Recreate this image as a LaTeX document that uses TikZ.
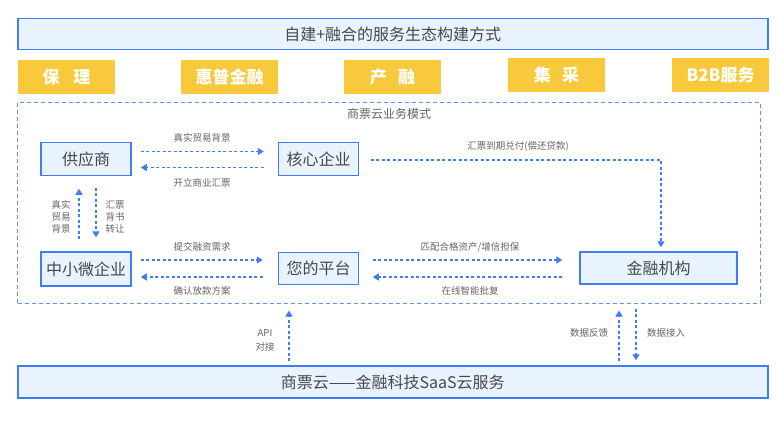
\documentclass[tikz,border=0pt]{standalone}
\usepackage{fontspec}
\setmainfont{Noto Sans CJK SC}
\usetikzlibrary{arrows.meta}
\definecolor{bl}{RGB}{64,124,245}
\definecolor{blc}{RGB}{96,146,245}
\definecolor{bfill}{RGB}{233,243,255}
\definecolor{yel}{RGB}{248,201,58}
\definecolor{tx}{RGB}{72,72,72}
\definecolor{lab}{RGB}{100,100,100}
\begin{document}
\begin{tikzpicture}[x=1pt,y=-1pt,
  entbox/.style={draw=bl, line width=1.5pt, fill=bfill, text=tx, inner sep=0pt,
    font=\fontsize{16}{19}\selectfont, minimum width=#1, minimum height=33pt},
  bar/.style={draw=bl, line width=1.5pt, fill=bfill, text=tx, inner sep=0pt,
    font=\fontsize{16}{19}\selectfont, minimum width=750pt, minimum height=31pt},
  ybox/.style={fill=yel, text=white, inner sep=0pt, font=\bfseries\fontsize{17}{20}\selectfont,
    minimum width=97pt, minimum height=34pt},
  lbl/.style={text=lab, font=\fontsize{9.5}{12}\selectfont, align=center, inner sep=0pt},
  arr/.style={draw=bl, line width=1.3pt, dash pattern=on 3pt off 2.5pt,
    -{Triangle[length=6pt,width=7pt]}},
  cont/.style={draw=blc, line width=1pt, dash pattern=on 4pt off 3pt}
]
\useasboundingbox (0,0) rectangle (776,426);

% top bar
\node[bar] (top) at (392.75,34) {自建+融合的服务生态构建方式};

% yellow boxes
\node[ybox] (y1) at (66.5,77) {保\hspace{0.8em}理};
\node[ybox] (y2) at (229.5,77) {惠普金融};
\node[ybox] (y3) at (392.5,77) {产\hspace{0.65em}融};
\node[ybox] (y4) at (556.5,75) {集\hspace{0.65em}采};
\node[ybox] (y5) at (720.5,75) {B2B服务};

% container
\node[cont, minimum width=742.5pt, minimum height=201pt, inner sep=0pt] (box) at (388.75,202.5) {};
\node[lbl, font=\fontsize{12}{14}\selectfont] (boxt) at (389,114) {商票云业务模式};

% entity nodes
\node[entbox=90pt] (sup) at (86,159) {供应商};
\node[entbox=80pt] (core) at (318.5,159) {核心企业};
\node[entbox=90pt, minimum height=34pt] (sme) at (86,269) {中小微企业};
\node[entbox=80pt, minimum height=32pt] (plat) at (318.5,268.5) {您的平台};
\node[entbox=157pt, minimum height=32pt] (fin) at (658.5,268) {金融机构};

% bottom bar
\node[bar, minimum height=32pt] (bot) at (392.75,382) {商票云——金融科技SaaS云服务};

% arrows supplier <-> core
\draw[arr] ([xshift=9pt,yshift=7.5pt]sup.east) -- ([xshift=-14pt,yshift=7.5pt]core.west);
\draw[arr] ([xshift=-14pt,yshift=-8.5pt]core.west) -- ([xshift=9pt,yshift=-8.5pt]sup.east);
\node[lbl] (l1) at (202,138) {真实贸易背景};
\node[lbl] (l2) at (202,183) {开立商业汇票};

% vertical supplier <-> sme
\draw[arr] ([xshift=-7pt,yshift=12pt]sme.north) -- ([xshift=-7pt,yshift=-12.5pt]sup.south);
\draw[arr] ([xshift=10pt,yshift=-11.5pt]sup.south) -- ([xshift=10pt,yshift=14pt]sme.north);
\node[lbl, font=\fontsize{9.5}{12}\selectfont] (l3) at (61,217) {真实\\贸易\\背景};
\node[lbl, font=\fontsize{9.5}{12}\selectfont] (l4) at (115,217) {汇票\\背书\\转让};

% sme <-> platform
\draw[arr] ([xshift=9pt,yshift=9pt]sme.east) -- ([xshift=-15pt,yshift=8.5pt]plat.west);
\draw[arr] ([xshift=-15pt,yshift=-8.5pt]plat.west) -- ([xshift=9pt,yshift=-8pt]sme.east);
\node[lbl] (l5) at (202,247) {提交融资需求};
\node[lbl] (l6) at (202,291) {确认放款方案};

% core -> fin
\draw[arr] ([xshift=11.5pt,yshift=-1pt]core.east) -| ([xshift=2.5pt,yshift=4pt]fin.north);
\node[lbl] (l7) at (518,146) {汇票到期兑付(偿还贷款)};

% platform <-> fin
\draw[arr] ([xshift=13.5pt,yshift=8.5pt]plat.east) -- ([xshift=-17pt,yshift=8pt]fin.west);
\draw[arr] ([xshift=-17pt,yshift=-9pt]fin.west) -- ([xshift=13.5pt,yshift=-8.5pt]plat.east);
\node[lbl] (l8) at (470,247) {匹配合格资产/增信担保};
\node[lbl] (l9) at (470,291) {在线智能批复};

% bottom arrows
\draw[arr] ([xshift=-103.75pt,yshift=4pt]bot.north) -- ([xshift=-99.75pt,yshift=-7pt]box.south);
\draw[arr] ([xshift=226.25pt,yshift=4pt]bot.north) -- ([xshift=230.25pt,yshift=-7pt]box.south);
\draw[arr] ([xshift=247.25pt,yshift=-5pt]box.south) -- ([xshift=243.25pt,yshift=5pt]bot.north);
\node[lbl, font=\fontsize{9.5}{14}\selectfont] (l10) at (265,340) {API\\对接};
\node[lbl] (l11) at (589,333) {数据反馈};
\node[lbl] (l12) at (666,333) {数据接入};
\end{tikzpicture}
\end{document}
